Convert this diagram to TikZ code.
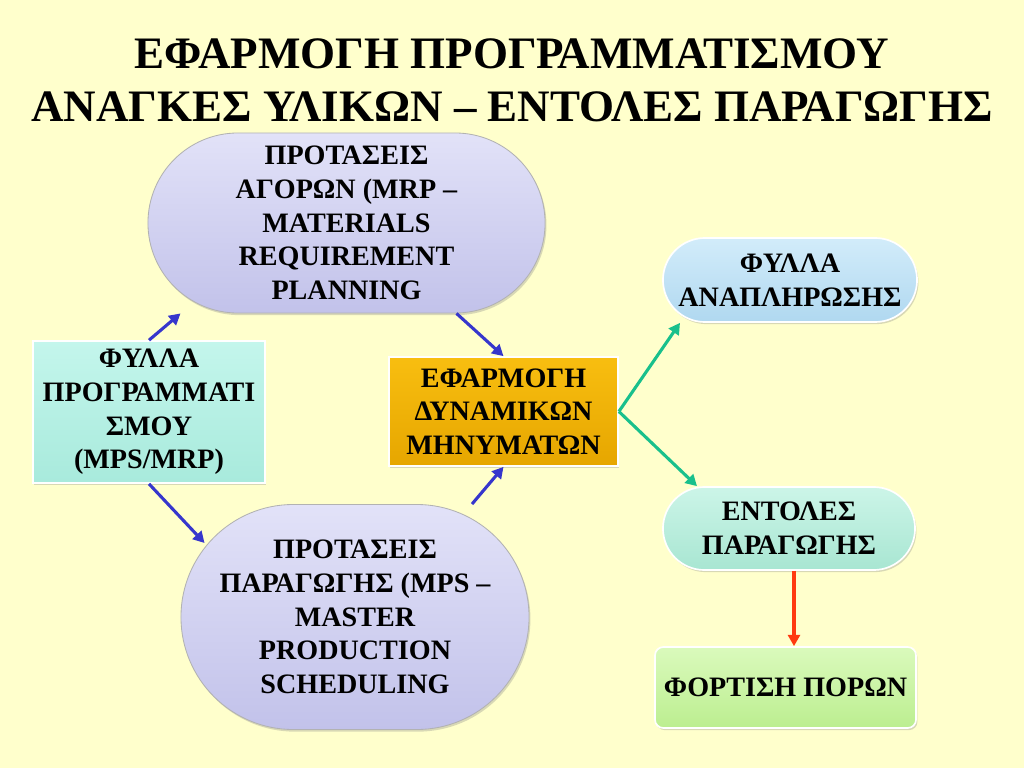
\documentclass[tikz,border=0pt]{standalone}
\usepackage{fontspec}
\setmainfont{Liberation Serif}
\usepackage{xcolor}
\usetikzlibrary{positioning,calc,shapes.misc,shadows,arrows.meta}

\definecolor{paper}{HTML}{FFFFCC}
\definecolor{lavtop}{HTML}{E2E2F8}
\definecolor{lavbot}{HTML}{C2C2EA}
\definecolor{cyantop}{HTML}{C4F6EC}
\definecolor{cyanbot}{HTML}{A8EADC}
\definecolor{goldtop}{HTML}{F8BE10}
\definecolor{goldbot}{HTML}{E6A600}
\definecolor{skytop}{HTML}{D2ECFA}
\definecolor{skybot}{HTML}{B0D8F0}
\definecolor{minttop}{HTML}{CCF5E8}
\definecolor{mintbot}{HTML}{A8E6D2}
\definecolor{limetop}{HTML}{DAFABC}
\definecolor{limebot}{HTML}{BCEE90}
\definecolor{arrblue}{HTML}{3636CC}
\definecolor{arrgreen}{HTML}{19C08C}
\definecolor{arrred}{HTML}{FF3A10}

\tikzset{
    box/.style={draw=white, line width=1.2pt, inner sep=0pt, align=center,
        font=\fontsize{20}{24}\selectfont\bfseries,
        drop shadow={opacity=0.3, shadow xshift=1pt, shadow yshift=-1.5pt}},
    pill/.style={box, rounded rectangle},
    link/.style={line width=2.2pt, -{Triangle[length=8pt,width=8.5pt]}}
}

\begin{document}
\begin{tikzpicture}[x=0.025cm, y=-0.025cm]
    \fill[paper] (0,0) rectangle (1024,768);
    \useasboundingbox (0,0) rectangle (1024,768);

    \node (title) at (512,80) [align=center, font=\fontsize{32}{37.7}\selectfont\bfseries] {ΕΦΑΡΜΟΓΗ ΠΡΟΓΡΑΜΜΑΤΙΣΜΟΥ\\ΑΝΑΓΚΕΣ ΥΛΙΚΩΝ – ΕΝΤΟΛΕΣ ΠΑΡΑΓΩΓΗΣ};

    \node (mrp) at (346.5,223) [pill, draw=gray!60, line width=0.6pt, top color=lavtop, bottom color=lavbot, minimum width=9.925cm, minimum height=4.5cm] {ΠΡΟΤΑΣΕΙΣ\\ΑΓΟΡΩΝ (MRP –\\MATERIALS\\REQUIREMENT\\PLANNING};
    \node (prog) at (149,412) [box, rectangle, top color=cyantop, bottom color=cyanbot, minimum width=5.8cm, minimum height=3.55cm] {ΦΥΛΛΑ\\ΠΡΟΓΡΑΜΜΑΤΙ\\ΣΜΟΥ\\(MPS/MRP)};
    \node (mps) at (355,617) [pill, draw=gray!60, line width=0.6pt, top color=lavtop, bottom color=lavbot, minimum width=8.7cm, minimum height=5.625cm] {ΠΡΟΤΑΣΕΙΣ\\ΠΑΡΑΓΩΓΗΣ (MPS –\\MASTER\\PRODUCTION\\SCHEDULING};
    \node (dyn) at (503.5,411.5) [box, rectangle, top color=goldtop, bottom color=goldbot, minimum width=5.725cm, minimum height=2.725cm] {ΕΦΑΡΜΟΓΗ\\ΔΥΝΑΜΙΚΩΝ\\ΜΗΝΥΜΑΤΩΝ};
    \node (refill) at (790,280) [pill, top color=skytop, bottom color=skybot, minimum width=6.35cm, minimum height=2.1cm] {ΦΥΛΛΑ\\ΑΝΑΠΛΗΡΩΣΗΣ};
    \node (orders) at (789,528.5) [pill, top color=minttop, bottom color=mintbot, minimum width=6.3cm, minimum height=2.075cm] {ΕΝΤΟΛΕΣ\\ΠΑΡΑΓΩΓΗΣ};
    \node (load) at (785.5,687.5) [box, rectangle, rounded corners=6pt, top color=limetop, bottom color=limebot, minimum width=6.525cm, minimum height=2.025cm] {ΦΟΡΤΙΣΗ ΠΟΡΩΝ};

    \draw[link, arrblue] (prog.north) -- ($(mrp.south)+(-166,0)$);
    \draw[link, arrblue] ($(mrp.south)+(110,0)$) -- (dyn.north);
    \draw[link, arrblue] (prog.south) -- ($(mps.west)+(24,-74)$);
    \draw[link, arrblue] ($(mps.north)+(117,0)$) -- (dyn.south);
    \draw[link, arrgreen] (dyn.east) -- ($(refill.south)+(-110,0)$);
    \draw[link, arrgreen] (dyn.east) -- ($(orders.north)+(-92,0)$);
    \draw[link, arrred] ($(orders.south)+(5,0)$) -- ($(orders.south |- load.north)+(5,0)$);
\end{tikzpicture}
\end{document}
